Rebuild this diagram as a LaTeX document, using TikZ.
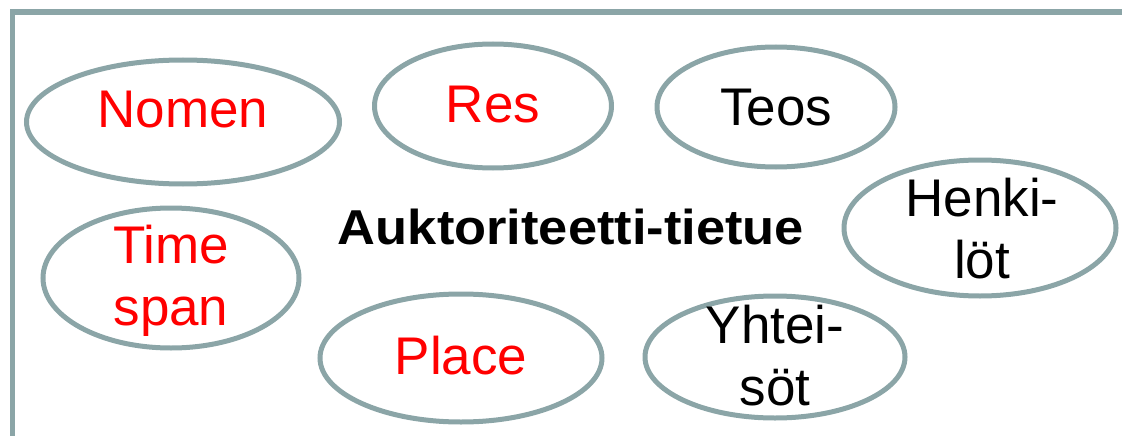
\documentclass[tikz,border=0pt]{standalone}
\usepackage{fontspec}
\setmainfont{Liberation Sans}
\usetikzlibrary{shapes.geometric}
\definecolor{framegray}{HTML}{8BA5A7}
\definecolor{txtred}{HTML}{FF0000}
\tikzset{
  oval/.style={ellipse, draw=framegray, line width=5pt, inner sep=0pt},
  lbl/.style={inner sep=0pt, font=\fontsize{53}{62}\selectfont, align=center},
  redlbl/.style={lbl, text=txtred},
  blklbl/.style={lbl, text=black},
}
\begin{document}
\begin{tikzpicture}[x=1pt,y=-1pt]
\useasboundingbox (0,0) rectangle (1122,436);
% frame
\coordinate (fa) at (12.5,436);
\coordinate (fb) at (12.5,12);
\coordinate (fc) at (1122,12);
\draw[framegray, line width=5.5pt, line join=miter] (fa) -- (fb) -- (fc);
% ellipses
\node[oval, minimum width=313pt, minimum height=124pt] (nomenE) at (183,122) {};
\node[oval, minimum width=237pt, minimum height=124pt] (resE) at (493,106) {};
\node[oval, minimum width=238pt, minimum height=120pt] (teosE) at (776,107) {};
\node[oval, minimum width=272pt, minimum height=136pt] (henkiE) at (980,228) {};
\node[oval, minimum width=256pt, minimum height=140pt] (timeE) at (171,278) {};
\node[oval, minimum width=282pt, minimum height=128pt] (placeE) at (461,358) {};
\node[oval, minimum width=260pt, minimum height=122pt] (yhteiE) at (775,357) {};
% labels
\node[redlbl, anchor=base] (nomen) at (183,127) {Nomen};
\node[redlbl, anchor=base] (res) at (493,122) {Res};
\node[blklbl, anchor=base] (teos) at (776,125) {Teos};
\node[redlbl, anchor=base] (place) at (461,374) {Place};
\node[redlbl] (time) at (171,281) {Time\\span};
\node[blklbl] (henki) at (982,229) {Henki-\\löt};
\node[blklbl] (yhtei) at (775,356) {Yhtei-\\söt};
\node[inner sep=0pt, anchor=base, font=\fontsize{49}{58}\selectfont\bfseries] (title) at (571,244) {\scalebox{1.07}[1]{Auktoriteetti-tietue}};
\end{tikzpicture}
\end{document}
